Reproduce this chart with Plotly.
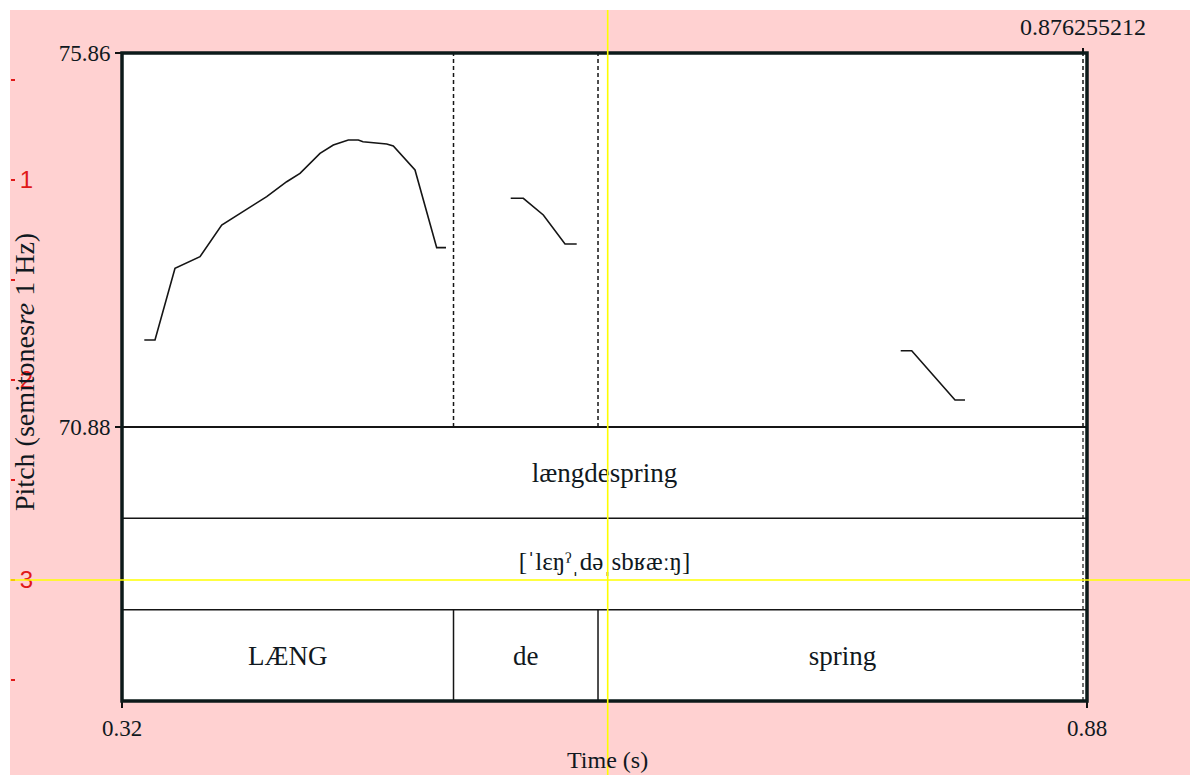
import plotly.graph_objects as go

# ---------------- data ----------------
t_min = 0.32
t_max = 0.87857
x_tick_text = ["0.32", "0.88"]
pitch_min = 70.88
pitch_max = 75.86
pitch_tick_text = ["70.88", "75.86"]

boundaries = [0.51189, 0.59553]          # word-tier interval boundaries (s)
marker_time = 0.876255212                # marked time shown on top
marker_text = "0.876255212"
cursor_time = 0.60114                    # yellow cursor (s)
cursor_level = 3                         # yellow cursor on red scale

seg1_t = [0.33291, 0.33910, 0.35068, 0.36515, 0.37771, 0.39021, 0.40376, 0.41533,
          0.42303, 0.43461, 0.44231, 0.45099, 0.45678, 0.45950, 0.46743, 0.47322,
          0.47704, 0.48960, 0.50216, 0.50755]
seg1_p = [72.038, 72.038, 72.993, 73.148, 73.570, 73.747, 73.947, 74.146,
          74.258, 74.524, 74.635, 74.702, 74.702, 74.679, 74.658, 74.648,
          74.622, 74.302, 73.268, 73.268]
seg2_t = [0.54500, 0.55229, 0.56387, 0.57643, 0.58320]
seg2_p = [73.925, 73.925, 73.703, 73.317, 73.317]
seg3_t = [0.77074, 0.77711, 0.80217, 0.80796]
seg3_p = [71.896, 71.896, 71.240, 71.240]

tier_top_text = "længdespring"
tier_mid_text = "[ˈlɛŋˀˌdəˌsbʁæːŋ]"
word_labels = ["LÆNG", "de", "spring"]

red_tick_vals = [0.5, 1, 1.5, 2, 2.5, 3, 3.5, 4]
red_tick_text = ["", "1", "", "2", "", "3", "", "4"]
red_range = [3.975, 0.1]

# ---------------- layout geometry ----------------
W, H = 1190, 775


def px_x(p):
    return p / W


def px_y(p):
    return 1 - p / H


L, R, T, B, PB = 122, 1087, 53, 701, 427   # frame pixels, PB = pitch bottom
STRIP = 10                                  # white strip at top/left

SERIF = "Liberation Serif, DejaVu Serif, serif"
TXT = "#101820"
n_tiers = 3

fig = go.Figure()

# pitch contour
for ts, ps in [(seg1_t, seg1_p), (seg2_t, seg2_p), (seg3_t, seg3_p)]:
    fig.add_trace(go.Scatter(x=ts, y=ps, mode="lines", xaxis="x", yaxis="y",
                             line=dict(color="#151515", width=1.6),
                             hoverinfo="skip", showlegend=False))

# dashed boundary lines in pitch area
for b in boundaries:
    fig.add_trace(go.Scatter(x=[b, b], y=[pitch_min, pitch_max], mode="lines",
                             xaxis="x", yaxis="y",
                             line=dict(color="#151515", width=1.5, dash="4px,3px"),
                             hoverinfo="skip", showlegend=False))
# marked time dashed line (pitch part on top axis, tier part)
fig.add_trace(go.Scatter(x=[marker_time, marker_time], y=[pitch_min, pitch_max], mode="lines",
                         xaxis="x2", yaxis="y",
                         line=dict(color="#151515", width=1.5, dash="4px,3px"),
                         hoverinfo="skip", showlegend=False))
fig.add_trace(go.Scatter(x=[marker_time, marker_time], y=[0, n_tiers], mode="lines",
                         xaxis="x", yaxis="y2",
                         line=dict(color="#151515", width=1.2, dash="4px,3px"),
                         hoverinfo="skip", showlegend=False))

# tier separators
for lvl in [1, 2]:
    fig.add_trace(go.Scatter(x=[t_min, t_max], y=[lvl, lvl], mode="lines",
                             xaxis="x", yaxis="y2",
                             line=dict(color="#151515", width=1.5),
                             hoverinfo="skip", showlegend=False))
# word tier boundaries (solid)
for b in boundaries:
    fig.add_trace(go.Scatter(x=[b, b], y=[0, 1], mode="lines", xaxis="x", yaxis="y2",
                             line=dict(color="#151515", width=1.5),
                             hoverinfo="skip", showlegend=False))

# tier texts
edges = [t_min] + boundaries + [t_max]
mids = [(edges[i] + edges[i + 1]) / 2 for i in range(len(word_labels))]
t_mid = (t_min + t_max) / 2
fig.add_trace(go.Scatter(
    x=[t_mid] + mids, y=[2.47] + [0.47] * len(word_labels),
    mode="text", text=[tier_top_text] + word_labels,
    textposition="middle center", xaxis="x", yaxis="y2",
    textfont=dict(family=SERIF, size=27, color=TXT),
    hoverinfo="skip", showlegend=False))
fig.add_trace(go.Scatter(
    x=[t_mid], y=[1.5], mode="text", text=[tier_mid_text],
    textposition="middle center", xaxis="x", yaxis="y2",
    textfont=dict(family=SERIF, size=25, color=TXT),
    hoverinfo="skip", showlegend=False))

# invisible anchor trace for red scale
fig.add_trace(go.Scatter(x=[0.5], y=[cursor_level], mode="markers", xaxis="x3", yaxis="y3",
                         marker=dict(opacity=0), hoverinfo="skip", showlegend=False))

tick_font = dict(family=SERIF, size=23, color=TXT)

fig.update_layout(
    width=W, height=H,
    autosize=False,
    margin=dict(l=0, r=0, t=0, b=0, pad=0, autoexpand=False),
    paper_bgcolor="#FFD1D1",
    plot_bgcolor="white",
    showlegend=False,
    xaxis=dict(domain=[px_x(L), px_x(R)], range=[t_min, t_max], anchor="y2",
               tickvals=[t_min, t_max], ticktext=x_tick_text, ticks="outside",
               ticklen=6, tickwidth=2, tickcolor="#111", tickfont=tick_font,
               showgrid=False, zeroline=False, showline=False, automargin=False),
    xaxis2=dict(overlaying="x", side="top", anchor="y", range=[t_min, t_max],
                tickvals=[marker_time], ticktext=[marker_text], ticks="outside",
                ticklen=4, tickwidth=2, tickcolor="#111",
                tickfont=dict(family=SERIF, size=24, color=TXT), ticklabelstandoff=3,
                showgrid=False, zeroline=False, showline=False, automargin=False),
    yaxis=dict(domain=[px_y(PB), px_y(T)], range=[pitch_min, pitch_max], anchor="x",
               tickvals=[pitch_min, pitch_max], ticktext=pitch_tick_text, ticks="outside",
               ticklen=6, tickwidth=2, tickcolor="#111", tickfont=tick_font,
               showgrid=False, zeroline=False, showline=False, automargin=False),
    yaxis2=dict(domain=[px_y(B), px_y(PB)], range=[0, n_tiers], anchor="x",
                showticklabels=False, ticks="", showgrid=False, zeroline=False,
                showline=False, automargin=False),
    xaxis3=dict(domain=[0, px_x(STRIP)], range=[0, 1], anchor="y3", visible=False,
                automargin=False),
    yaxis3=dict(domain=[0, 1], range=red_range, anchor="x3", side="right",
                tickvals=red_tick_vals, ticktext=red_tick_text, ticks="outside",
                ticklen=4, tickwidth=1.5, tickcolor="#e01818",
                tickfont=dict(family="Liberation Sans, Arial, sans-serif", size=24,
                              color="#e01818"),
                showgrid=False, zeroline=False, showline=False, automargin=False),
    shapes=[
        # white top strip
        dict(type="rect", xref="paper", yref="paper", x0=0, x1=1, y0=px_y(STRIP), y1=1,
             fillcolor="white", line=dict(width=0), layer="below"),
        # line between pitch and tiers
        dict(type="line", xref="x domain", yref="y2 domain", x0=0, x1=1, y0=1, y1=1,
             line=dict(color="#151515", width=2), layer="above"),
        # frame
        dict(type="rect", xref="paper", yref="paper", x0=px_x(L), x1=px_x(R),
             y0=px_y(B), y1=px_y(T), line=dict(color="#0c1a1a", width=3.5),
             fillcolor="rgba(0,0,0,0)", layer="above"),
        # yellow cursor
        dict(type="line", xref="x", yref="paper", x0=cursor_time, x1=cursor_time,
             y0=0, y1=px_y(STRIP), line=dict(color="#ffff00", width=1.6), layer="above"),
        dict(type="line", xref="paper", yref="y3", x0=px_x(STRIP), x1=1,
             y0=cursor_level, y1=cursor_level, line=dict(color="#ffff00", width=1.6),
             layer="above"),
    ],
    annotations=[
        dict(text="Time (s)", xref="paper", yref="paper", x=px_x(607), y=px_y(760),
             showarrow=False, font=dict(family=SERIF, size=24, color=TXT),
             xanchor="center", yanchor="middle"),
        dict(text="Pitch (semitones<i>re</i> 1 Hz)", xref="paper", yref="paper",
             x=px_x(24), y=px_y(372), textangle=-90, showarrow=False,
             font=dict(family=SERIF, size=28, color=TXT),
             xanchor="center", yanchor="middle"),
    ],
)

fig.write_html("out.html", config={"displayModeBar": False},
               post_script="document.body.style.margin='0px';document.body.style.overflow='hidden';")
